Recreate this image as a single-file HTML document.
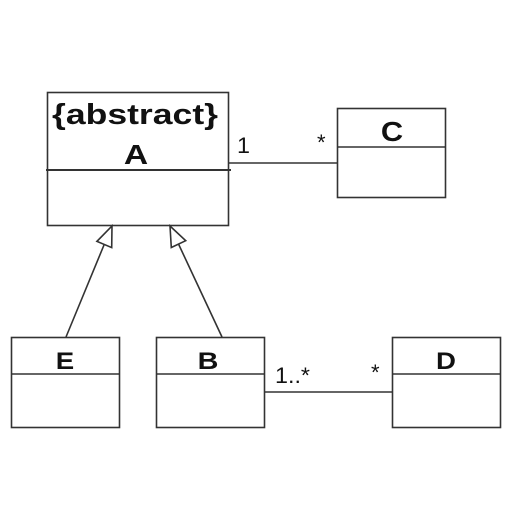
<!DOCTYPE html>
<html><head><meta charset="utf-8"><style>
html,body{margin:0;padding:0;background:#fff;width:512px;height:512px;overflow:hidden}
svg{display:block}
text{font-family:"Liberation Sans",Arial,sans-serif;fill:#111}
</style></head><body>
<svg width="512" height="512" viewBox="0 0 512 512">
<g stroke="#333" stroke-width="1.6" fill="none">
  <g>
    <rect x="47.5" y="92.5" width="181" height="133"/>
    <line x1="46" y1="170" x2="231" y2="170" stroke-width="2"/>
  </g>
  <g>
    <rect x="337.5" y="108.5" width="108" height="89"/>
    <line x1="337" y1="147" x2="446" y2="147"/>
  </g>
  <g>
    <rect x="11.5" y="337.5" width="108" height="90"/>
    <line x1="11" y1="374" x2="120" y2="374"/>
  </g>
  <g>
    <rect x="156.5" y="337.5" width="108" height="90"/>
    <line x1="156" y1="374" x2="265" y2="374"/>
  </g>
  <g>
    <rect x="392.5" y="337.5" width="108" height="90"/>
    <line x1="392" y1="374" x2="501" y2="374"/>
  </g>
  <line x1="229" y1="163" x2="337" y2="163"/>
  <line x1="265" y1="392" x2="392" y2="392"/>
  <line x1="66" y1="337" x2="104" y2="245"/>
  <polygon points="112,226 111.7,247.6 96.9,241.4" fill="#fff"/>
  <line x1="222" y1="337" x2="178.5" y2="244"/>
  <polygon points="170,226 185.7,240.7 171.3,247.5" fill="#fff"/>
</g>
<text x="52" y="124" font-size="29" font-weight="bold" textLength="166" lengthAdjust="spacingAndGlyphs">{abstract}</text>
<text transform="translate(136,164) scale(1.2,1)" font-size="28" font-weight="bold" text-anchor="middle">A</text>
<text transform="translate(392,141) scale(1.1,1)" font-size="28" font-weight="bold" text-anchor="middle">C</text>
<text transform="translate(65,369) scale(1.15,1)" font-size="24" font-weight="bold" text-anchor="middle">E</text>
<text transform="translate(208,369) scale(1.2,1)" font-size="24" font-weight="bold" text-anchor="middle">B</text>
<text transform="translate(446,369) scale(1.15,1)" font-size="24" font-weight="bold" text-anchor="middle">D</text>
<text x="237" y="153" font-size="22" textLength="13" lengthAdjust="spacingAndGlyphs">1</text>
<text x="317" y="150" font-size="22">*</text>
<text x="275" y="383" font-size="22" textLength="35" lengthAdjust="spacingAndGlyphs">1..*</text>
<text x="371" y="380" font-size="22">*</text>
</svg>
</body></html>
